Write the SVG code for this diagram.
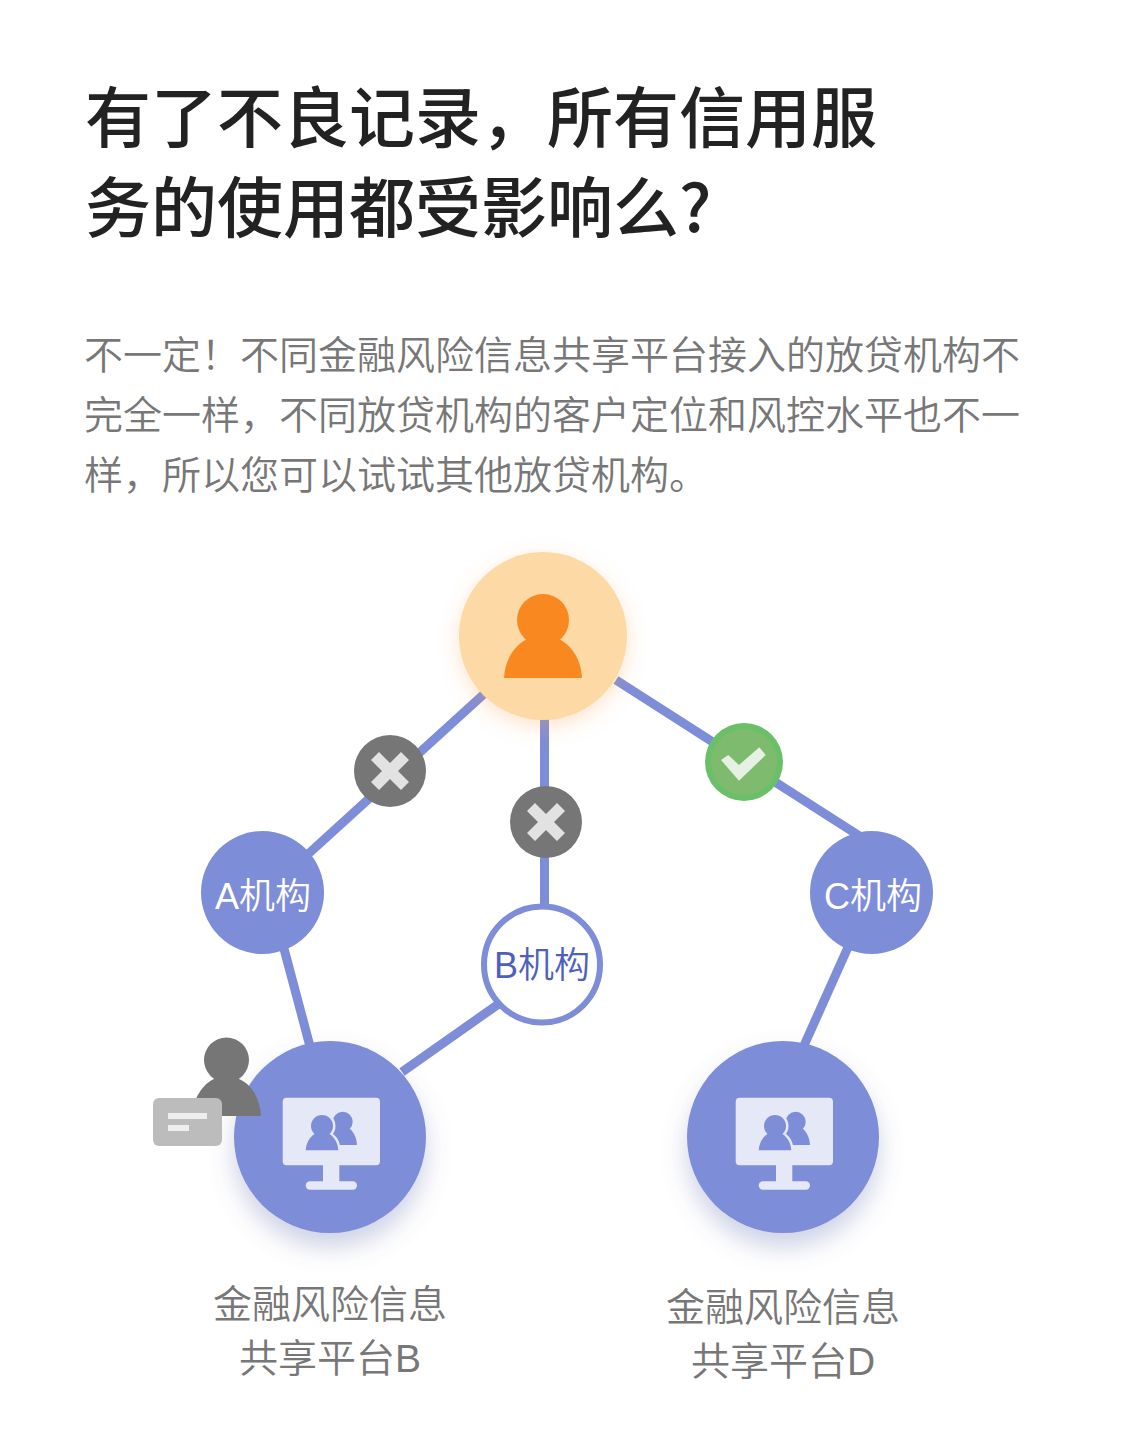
<svg xmlns="http://www.w3.org/2000/svg" width="1125" height="1440" viewBox="0 0 1125 1440">
<style>
.title{font-family:"Noto Sans CJK SC","Noto Sans",sans-serif;font-size:66px;font-weight:500;fill:#222}
.body{font-family:"Noto Sans CJK SC","Noto Sans",sans-serif;font-size:39px;font-weight:350;fill:#777}
.cap{font-family:"Liberation Sans","Noto Sans CJK SC",sans-serif;font-size:39px;font-weight:350;fill:#777;text-anchor:middle}
.node{font-family:"Liberation Sans","Noto Sans CJK SC",sans-serif;font-size:36px;font-weight:350;text-anchor:middle}
.line{stroke:#7e8dd7;stroke-width:9;fill:none}
.mon{fill:#e4e8f7}
.pic{fill:#7e8dd7}
</style>
<defs>
<filter id="sb" x="-30%" y="-30%" width="160%" height="170%"><feDropShadow dx="0" dy="14" stdDeviation="12" flood-color="#5a68a8" flood-opacity=".3"/></filter>
<filter id="so" x="-30%" y="-30%" width="160%" height="170%"><feDropShadow dx="0" dy="6" stdDeviation="10" flood-color="#f9a050" flood-opacity=".3"/></filter>
<g id="monitor">
<rect x="-48.800" y="-39.300" width="97.300" height="67.600" rx="4" class="mon"/>
<rect x="-8.500" y="27" width="16.300" height="18" class="mon"/>
<rect x="-25.800" y="44.300" width="51.300" height="8.400" rx="4.200" class="mon"/>
<circle cx="11.200" cy="-15.300" r="10" class="pic"/>
<path d="M-6 8C-5-3 3-10 8-10H16C21-7 25-1 25.500 8Z" class="pic"/>
<g class="mon" stroke="#e4e8f7" stroke-width="5">
<circle cx="-9.500" cy="-11" r="11"/>
<path d="M-25.800 13.300C-25.300 4-20-2-15-4H-4C1-2 6.300 4 6.800 13.300Z"/>
</g>
<circle cx="-9.500" cy="-11" r="11" class="pic"/>
<path d="M-25.800 13.300C-25.300 4-20-2-15-4H-4C1-2 6.300 4 6.800 13.300Z" class="pic"/>
</g>
<path id="cross" d="M-19-11-11-19 0-8 11-19 19-11 8 0 19 11 11 19 0 8-11 19-19 11-8 0Z" fill="#e2e2e2"/>
</defs>
<rect width="1125" height="1440" fill="#fff"/>
<g id="texts">
<text class="title" x="85" y="142">有了不良记录，所有信用服</text>
<text class="title" x="85" y="232">务的使用都受影响么?</text>
<text class="body" x="84" y="369">不一定！不同金融风险信息共享平台接入的放贷机构不</text>
<text class="body" x="84" y="429">完全一样，不同放贷机构的客户定位和风控水平也不一</text>
<text class="body" x="84" y="489">样，所以您可以试试其他放贷机构。</text>
</g>
<g id="connectors">
<line class="line" x1="484" y1="694" x2="262" y2="896"/>
<line class="line" x1="544.500" y1="715" x2="544.500" y2="910"/>
<line class="line" x1="616" y1="680" x2="872" y2="844"/>
<line class="line" x1="283" y1="945" x2="311" y2="1050"/>
<line class="line" x1="402" y1="1072" x2="500" y2="1003"/>
<line class="line" x1="849" y1="945" x2="802" y2="1050"/>
</g>
<g id="user"><circle cx="543" cy="636" r="84" fill="#fdd9a5" filter="url(#so)"/>
<circle cx="543" cy="620" r="26" fill="#f8881f"/>
<path d="M504 678C505 658 516 643 530 638H556C570 643 581 658 582 678Z" fill="#f8881f"/></g>
<g id="badge-a"><circle cx="390" cy="771" r="36" fill="#767676"/><use href="#cross" x="390" y="771"/></g>
<g id="badge-b"><circle cx="546" cy="822" r="36" fill="#767676"/><use href="#cross" x="546" y="822"/></g>
<g id="badge-c"><circle cx="744" cy="762" r="39" fill="#69c068"/><circle cx="744" cy="762" r="33" fill="#7fbb6f"/>
<path d="M721 760 728.300 755 739 765 759.300 747.300 765.700 755 739 780.700Z" fill="#e5f1e2"/></g>
<g id="node-a"><circle cx="262.500" cy="892.500" r="61.500" fill="#7e8dd7"/><text class="node" x="263" y="909" fill="#fff">A机构</text></g>
<g id="node-b"><circle cx="542" cy="964.500" r="58" fill="#fff" stroke="#7e8dd7" stroke-width="6"/><text class="node" x="542" y="978" fill="#4f5fc0">B机构</text></g>
<g id="node-c"><circle cx="871.500" cy="892.500" r="61.500" fill="#7e8dd7"/><text class="node" x="873" y="909" fill="#fff">C机构</text></g>
<g id="platform-b"><circle cx="330" cy="1137" r="96" fill="#7e8dd7" filter="url(#sb)"/><use href="#monitor" x="331.500" y="1137"/></g>
<g id="platform-d"><circle cx="783" cy="1137" r="96" fill="#7e8dd7" filter="url(#sb)"/><use href="#monitor" x="784.500" y="1137"/></g>
<g id="person"><circle cx="226.500" cy="1060" r="22.500" fill="#767676"/>
<path d="M192 1116C193 1098 203 1084 214 1079H239C251 1084 260 1098 261 1116Z" fill="#767676"/>
<rect x="153" y="1098" width="69" height="48" rx="6" fill="#bcbcbc"/>
<rect x="168" y="1113" width="39" height="6" fill="#eee"/><rect x="168" y="1125" width="21" height="6" fill="#eee"/></g>
<g id="captions">
<text class="cap" x="330" y="1318">金融风险信息</text>
<text class="cap" x="330" y="1372">共享平台B</text>
<text class="cap" x="783" y="1321">金融风险信息</text>
<text class="cap" x="783" y="1375">共享平台D</text>
</g>
</svg>
